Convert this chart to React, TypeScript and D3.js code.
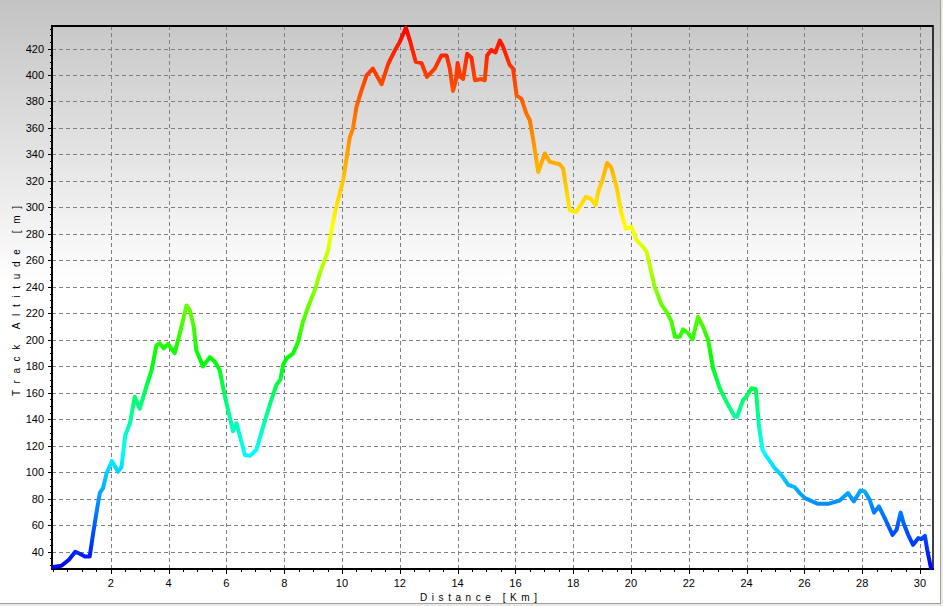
import * as d3 from "d3";

// distance along the track (km) and altitude (m)
const distanceKm = [
  0, 0.29, 0.55, 0.77, 0.93, 1.1, 1.27, 1.39, 1.5, 1.62, 1.73, 1.85, 2.04, 2.25, 2.37, 2.5,
  2.66, 2.83, 3.0, 3.23, 3.41, 3.58, 3.7, 3.83, 3.98, 4.21, 4.39, 4.62, 4.73, 4.87, 4.96,
  5.19, 5.43, 5.6, 5.77, 5.94, 6.23, 6.35, 6.64, 6.81, 7.04, 7.27, 7.5, 7.73, 7.87, 7.96,
  8.08, 8.31, 8.48, 8.65, 8.83, 9.06, 9.23, 9.4, 9.52, 9.64, 9.75, 9.92, 10.04, 10.27,
  10.38, 10.5, 10.67, 10.85, 11.07, 11.37, 11.6, 11.83, 12.0, 12.21, 12.35, 12.55, 12.75,
  12.94, 13.21, 13.44, 13.62, 13.73, 13.84, 13.94, 14.0, 14.1, 14.19, 14.33, 14.48, 14.6,
  14.83, 14.94, 15.02, 15.17, 15.31, 15.46, 15.57, 15.8, 15.92, 16.04, 16.21, 16.38, 16.5,
  16.61, 16.79, 17.02, 17.19, 17.53, 17.65, 17.88, 18.11, 18.44, 18.6, 18.78, 18.86, 19.01,
  19.17, 19.32, 19.5, 19.67, 19.82, 20.02, 20.19, 20.42, 20.54, 20.82, 21.06, 21.23, 21.4,
  21.52, 21.69, 21.8, 21.98, 22.13, 22.32, 22.49, 22.67, 22.84, 23.07, 23.3, 23.59, 23.67,
  23.88, 23.99, 24.17, 24.32, 24.43, 24.55, 24.69, 24.98, 25.2, 25.44, 25.67, 25.84, 26.02,
  26.47, 26.82, 27.22, 27.51, 27.71, 27.94, 28.09, 28.26, 28.41, 28.58, 28.78, 29.05, 29.19,
  29.33, 29.44, 29.59, 29.76, 29.94, 30.05, 30.17, 30.25, 30.38,
];
const altitudeM = [
  28.5, 29.4, 34, 40, 38.5, 36.5, 36.5, 54, 69, 84.5, 88, 99, 108.5, 100.5, 104, 128,
  137, 157, 148, 164.7, 177, 196, 197.4, 193.6, 197, 190, 205, 226, 222.5, 210, 192,
  180, 187, 183.5, 177, 158, 131, 137, 113, 112.4, 117, 134.5, 151, 166, 170, 181,
  186, 189.8, 198.6, 213.7, 225, 237.6, 250.2, 260.2, 267.8, 282.8, 295.4, 310.5, 320.5, 353,
  359.5, 376, 388, 399.7, 404.8, 393, 408.5, 418.6, 425, 435.7, 426, 410, 409,
  398.5, 404.8, 414.8, 414.8, 404.8, 388, 396, 409, 398.5, 397, 416, 413, 396,
  397, 396, 414.8, 419, 417, 426, 421.6, 407.6, 404.8, 384.7, 382, 370.8, 365.8,
  352, 326.8, 340.7, 334.4, 332.6, 329.4, 297.9, 296.6, 308, 306.7, 301.7, 311.7, 320.5,
  333.6, 330, 315.5, 295.4, 284, 285.3, 275.3, 270.2, 266.5, 240, 226.3, 221.2, 213.7,
  202.4, 202.4, 208, 205, 200.4, 217.5, 210, 199.9, 178.5, 163.5, 153.3, 142, 142,
  154.6, 157, 163.5, 162.7, 134.5, 117, 112, 103, 98, 90.5, 88.8, 84.3, 80.5,
  76.2, 76.2, 78.7, 84.3, 78, 86.2, 85.5, 79.2, 69.6, 74.2, 65.4, 52.8, 56.6,
  69.6, 61.1, 52.8, 45.3, 50.3, 49.6, 52, 41.5, 27.7,
];

const xTicks = [2, 4, 6, 8, 10, 12, 14, 16, 18, 20, 22, 24, 26, 28, 30];
const yTicks = [40, 60, 80, 100, 120, 140, 160, 180, 200, 220, 240, 260, 280, 300, 320, 340, 360, 380, 400, 420];

// altitude -> colour stops
const colorAlt = [27, 115, 185, 285, 437];
const colorHex = ["#0000ff", "#00ffff", "#00ff00", "#ffff00", "#ff0000"];

const W = 943;
const H = 606;
const left = 52;
const right = 933;
const top = 26;
const bottom = 569;
const font = "'Liberation Sans', Arial, sans-serif";

export default function App() {
  const x = d3.scaleLinear().domain([0, 30.45]).range([53, right]);
  const y = d3.scaleLinear().domain([27, 437]).range([bottom, top]);
  const pts = distanceKm.map((d, i) => [d, altitudeM[i]] as [number, number]);
  const line = d3
    .line<[number, number]>()
    .x((d) => x(d[0]))
    .y((d) => y(d[1]));

  const xMinor = d3.range(0, 30.45, 0.5);
  const yMinor = d3.range(30, 437, 5);
  const [lo, hi] = y.domain();

  return (
    <svg
      width={W}
      height={H}
      style={{ position: "absolute", left: 0, top: 0, display: "block" }}
    >
      <defs>
        <linearGradient id="bg" x1="0" y1="0" x2="0" y2="1">
          <stop offset="0" stopColor="#c3c3c3" />
          <stop offset="0.47" stopColor="#ffffff" />
          <stop offset="1" stopColor="#ffffff" />
        </linearGradient>
        <linearGradient
          id="alt"
          gradientUnits="userSpaceOnUse"
          x1={0}
          y1={y(lo)}
          x2={0}
          y2={y(hi)}
        >
          {colorAlt.map((v, i) => (
            <stop key={v} offset={(v - lo) / (hi - lo)} stopColor={colorHex[i]} />
          ))}
        </linearGradient>
      </defs>

      <rect x={0} y={0} width={W} height={H} fill="#ece9e4" />
      <rect x={0} y={0} width={940} height={603} fill="url(#bg)" />
      <line x1={940.5} y1={0} x2={940.5} y2={604} stroke="#a0a0a0" />
      <line x1={0} y1={603.5} x2={941} y2={603.5} stroke="#a0a0a0" />

      {/* grid */}
      <g stroke="#808080" strokeWidth={1} strokeDasharray="4,3">
        {xTicks.map((t) => (
          <line key={"gx" + t} x1={Math.round(x(t)) + 0.5} x2={Math.round(x(t)) + 0.5} y1={top} y2={bottom} />
        ))}
        {yTicks.map((t) => (
          <line key={"gy" + t} x1={left} x2={right} y1={Math.round(y(t)) + 0.5} y2={Math.round(y(t)) + 0.5} />
        ))}
      </g>

      {/* minor ticks */}
      <g stroke="#000" strokeWidth={1}>
        {xMinor.map((t) => (
          <line key={"mx" + t} x1={Math.round(x(t)) + 0.5} x2={Math.round(x(t)) + 0.5} y1={bottom} y2={bottom + 3} />
        ))}
        {yMinor.map((t) => (
          <line key={"my" + t} x1={left - 2} x2={left + 1} y1={Math.round(y(t)) + 0.5} y2={Math.round(y(t)) + 0.5} />
        ))}
        {xTicks.map((t) => (
          <line key={"tx" + t} x1={Math.round(x(t)) + 0.5} x2={Math.round(x(t)) + 0.5} y1={bottom} y2={bottom + 5} />
        ))}
        {yTicks.map((t) => (
          <line key={"ty" + t} x1={left - 4} x2={left} y1={Math.round(y(t)) + 0.5} y2={Math.round(y(t)) + 0.5} />
        ))}
      </g>

      {/* frame */}
      <line x1={left} y1={top} x2={right} y2={top} stroke="#000" strokeWidth={2} />
      <line x1={right} y1={top - 1} x2={right} y2={bottom} stroke="#000" strokeWidth={1.5} />
      <line x1={left} y1={top - 1} x2={left} y2={bottom + 1} stroke="#000" strokeWidth={2} />
      <line x1={left - 1} y1={bottom} x2={right + 1} y2={bottom} stroke="#000" strokeWidth={2} />

      {/* profile */}
      <path
        d={line(pts) ?? ""}
        fill="none"
        stroke="url(#alt)"
        strokeWidth={4}
        strokeLinejoin="round"
        strokeLinecap="round"
      />

      {/* tick labels */}
      <g fontFamily={font} fontSize={11} fill="#000">
        {xTicks.map((t) => (
          <text key={"lx" + t} x={x(t)} y={587} textAnchor="middle">
            {t}
          </text>
        ))}
        {yTicks.map((t) => (
          <text key={"ly" + t} x={44} y={y(t) + 4} textAnchor="end">
            {t}
          </text>
        ))}
      </g>

      {/* axis titles */}
      <text
        x={420}
        y={601}
        fontFamily={font}
        fontSize={10}
        textLength={117}
        lengthAdjust="spacing"
      >
        Distance [Km]
      </text>
      <text
        transform="translate(20,396) rotate(-90)"
        fontFamily={font}
        fontSize={10}
        textLength={190}
        lengthAdjust="spacing"
      >
        Track Altitude [m]
      </text>
    </svg>
  );
}
